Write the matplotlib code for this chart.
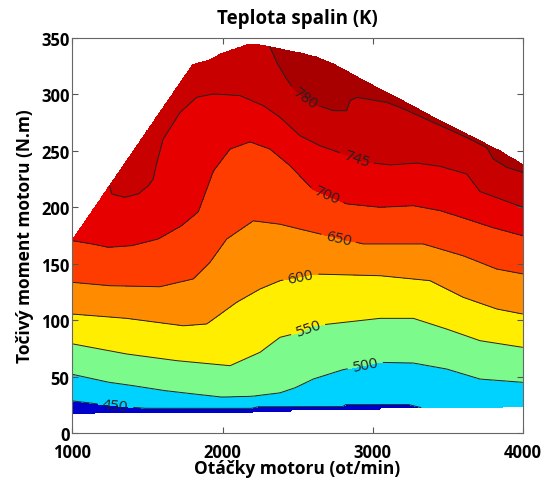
import numpy as np
import matplotlib
matplotlib.use("Agg")
import matplotlib.pyplot as plt

plt.rcParams['font.family'] = ['Open Sans', 'DejaVu Sans']

# ---- data ----
levels = [450, 500, 550, 600, 650, 700, 745, 780]

# full-load envelope (max torque) and lower limit of measured map
env_rpm = [1000, 1800, 1920, 1985, 2115, 2160, 2250, 2316, 2400, 2516, 2630, 2740, 2960, 3182, 3404, 3626, 3848, 4000]
env_tq = [171.5, 326.5, 331, 336, 342, 344, 344, 342.5, 340, 337, 333, 327, 311, 296, 280, 265, 250, 238]
low_rpm = [1000, 2200, 2220, 2450, 2460, 3040, 3050, 3860, 3870, 4000]
low_tq = [17.5, 18.3, 19.2, 19.2, 20.4, 20.4, 22.1, 22.1, 23.3, 23.3]

# contour lines (rpm, torque) for each temperature level
c450_rpm = [1000, 1175, 1395, 1484, 2194, 2238, 2800, 2820, 3240, 3330]
c450_tq = [28.5, 25.7, 22.8, 21.9, 21.9, 23.3, 23.3, 25.1, 25.1, 22.1]
c500_rpm = [1000, 1240, 1400, 1617, 1805, 1994, 2200, 2383, 2483, 2605, 2800, 3049, 3271, 3493, 3715, 4000]
c500_tq = [52, 45, 42, 37.5, 34.6, 31.8, 32.5, 35.5, 40, 47.8, 56, 62.6, 62, 56.7, 47.8, 44.9]
c550_rpm = [1000, 1362, 1695, 2050, 2250, 2383, 2516, 2605, 3049, 3271, 3493, 3715, 4000]
c550_tq = [79, 70, 64.1, 59.6, 71.5, 84.8, 89.2, 95, 101.6, 101.6, 92.1, 81.8, 75.9]
c600_rpm = [1000, 1362, 1739, 1895, 2094, 2250, 2383, 2605, 3049, 3382, 3604, 3826, 4000]
c600_tq = [105.4, 101.6, 95, 96.6, 115.8, 127.6, 135, 140.9, 139.4, 135, 120.2, 109.9, 105.4]
c650_rpm = [1000, 1250, 1583, 1805, 1917, 2028, 2161, 2205, 2383, 2605, 2938, 3337, 3604, 3826, 4000]
c650_tq = [133.5, 130.5, 129.6, 136.5, 151.3, 171.9, 184, 188, 185, 177.8, 167.5, 167.5, 157, 145.3, 141]
c700_rpm = [1000, 1128, 1239, 1395, 1572, 1728, 1839, 1870, 1939, 2050, 2183, 2316, 2450, 2600, 2827, 3049, 3271, 3450, 3626, 3800, 4000]
c700_tq = [170.5, 167.5, 164.5, 166, 171.9, 183.7, 196, 207, 232, 251.6, 258, 251.6, 236.8, 216, 203, 200, 201.4, 197, 189.6, 182, 174.8]
c745_rpm = [1248, 1262, 1350, 1439, 1506, 1539, 1560, 1605, 1717, 1828, 1939, 2116, 2272, 2383, 2516, 2649, 2805, 2960, 3115, 3293, 3449, 3626, 3714, 4000]
c745_tq = [219.5, 211.8, 208.8, 211.8, 219, 225, 238, 260.5, 284, 297.5, 300.4, 298.9, 290, 279.7, 263.4, 254.6, 247.2, 239.9, 237.5, 239.2, 236.3, 229.5, 214, 200]
c780_rpm = [2316, 2361, 2420, 2471, 2520, 2616, 2738, 2827, 2849, 2894, 2960, 3093, 3182, 3404, 3626, 3760, 3804, 3893, 4000]
c780_tq = [342.5, 328.5, 315, 305.5, 300, 291, 285.6, 285.6, 294.5, 297.4, 296, 293, 288.6, 275.3, 262, 253, 242.8, 235.4, 231]

contour_rpm = [c450_rpm, c500_rpm, c550_rpm, c600_rpm, c650_rpm, c700_rpm, c745_rpm, c780_rpm]
contour_tq = [c450_tq, c500_tq, c550_tq, c600_tq, c650_tq, c700_tq, c745_tq, c780_tq]

# label positions (rpm, torque)
label_pos = [(1284, 21), (2949, 61), (2571, 92), (2521, 138), (2771, 171), (2694, 210), (2894, 243), (2549, 297)]

band_colors = ['#0000CC', '#00D2FF', '#7CFA8C', '#FFEE00', '#FF8C00', '#FF3C00', '#E60000', '#C80000', '#A80000']

# ---- build temperature field from the contour lines ----
rpm_grid = np.linspace(1000, 4000, 751)
tq_grid = np.linspace(0, 350, 876)
env = np.interp(rpm_grid, env_rpm, env_tq)
low = np.interp(rpm_grid, low_rpm, low_tq)
Z = np.full((len(tq_grid), len(rpm_grid)), np.nan)
for j, r in enumerate(rpm_grid):
    pts_t, pts_v = [], []
    for lvl, sp, tq in zip(levels, contour_rpm, contour_tq):
        if sp[0] <= r <= sp[-1]:
            pts_t.append(float(np.interp(r, sp, tq)))
            pts_v.append(lvl)
    tb = 440.0 if 450 in pts_v else 460.0
    top_lvl = max(pts_v)
    tt = top_lvl + 15.0
    t_all = [low[j] - 1e-6] + pts_t + [env[j] + 1e-6]
    v_all = [tb] + pts_v + [tt]
    t_all = np.maximum.accumulate(np.array(t_all))
    col = np.interp(tq_grid, t_all, v_all)
    col[(tq_grid < low[j]) | (tq_grid > env[j])] = np.nan
    Z[:, j] = col
Zm = np.ma.masked_invalid(Z)
X, Y = np.meshgrid(rpm_grid, tq_grid)

# ---- plot ----
fig = plt.figure(figsize=(5.45, 4.81), dpi=100)
ax = fig.add_axes([0.1328, 0.0977, 0.8265, 0.8212])
ax.contourf(X, Y, Zm, levels=[400] + levels + [900], colors=band_colors)
cs = ax.contour(X, Y, Zm, levels=levels, colors='#222222', linewidths=0.7)
ax.clabel(cs, fmt='%d', manual=label_pos, inline=True, fontsize=11, colors='#222222')

ax.set_xlim(1000, 4000)
ax.set_ylim(0, 350)
ax.set_xticks([1000, 2000, 3000, 4000])
ax.set_yticks(np.arange(0, 351, 50))
ax.tick_params(direction='in', length=4, top=True, right=True, color='#555555',
               labelsize=12, pad=2)
ax.tick_params(axis='x', pad=7)
for lab in ax.get_xticklabels() + ax.get_yticklabels():
    lab.set_fontweight('bold')
for s in ax.spines.values():
    s.set_color('#666666')
    s.set_linewidth(0.8)
ax.set_title('Teplota spalin (K)', fontsize=13.5, fontweight='bold', pad=11)
ax.set_xlabel('Otáčky motoru (ot/min)', fontsize=12.5, fontweight='bold', labelpad=-1)
ax.set_ylabel('Točivý moment motoru (N.m)', fontsize=12.5, fontweight='bold', labelpad=5)

fig.savefig('out.png', dpi=100)
